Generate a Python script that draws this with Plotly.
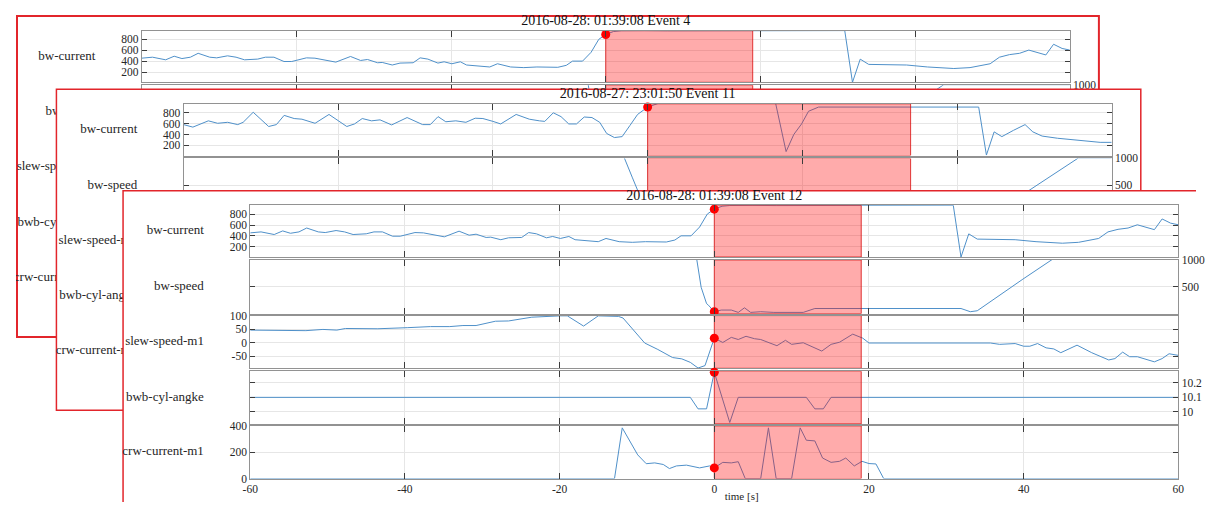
import plotly.graph_objects as go

# The page is photographed with the browser's default 8px body margin, so the
# figure is sized to leave that margin and every position is given in page pixels.
PAGE_W, PAGE_H = 1213, 516
PAGE_MARGIN = 8
FIG_W, FIG_H = PAGE_W - 2 * PAGE_MARGIN, PAGE_H - 2 * PAGE_MARGIN

# ------------------------------------------------------------------ data
titles = ["2016-08-28: 01:39:08 Event 4",
          "2016-08-27: 23:01:50 Event 11",
          "2016-08-28: 01:39:08 Event 12"]
signal_labels = ["bw-current", "bw-speed", "slew-speed-m1", "bwb-cyl-angke", "crw-current-m1"]
time_axis_title = "time [s]"

time_ticks = [-60, -40, -20, 0, 20, 40, 60]
time_tick_text = ["-60", "-40", "-20", "0", "20", "40", "60"]
bw_current_ticks = [200, 400, 600, 800]
bw_current_tick_text = ["200", "400", "600", "800"]
bw_speed_ticks = [500, 1000]
bw_speed_tick_text = ["500", "1000"]
slew_ticks = [-50, 0, 50, 100]
slew_tick_text = ["-50", "0", "50", "100"]
bwb_ticks = [10.0, 10.1, 10.2]
bwb_tick_text = ["10", "10.1", "10.2"]
crw_ticks = [0, 200, 400]
crw_tick_text = ["0", "200", "400"]

# event A (2016-08-28 01:39:08) -> shown as Event 4 and Event 12
evA_bw_current_t = [-60, -58.6, -56.9, -55.8, -54.8, -53.7, -52.7, -51.2, -50.3, -48.9,
                    -47.8, -46.7, -45.0, -44.0, -42.9, -41.6, -40.6, -38.7, -37.6, -36.4,
                    -34.9, -33.0, -31.7, -30.8, -29.5, -28.9, -27.6, -26.6, -24.9, -24.0,
                    -23.0, -21.7, -20.9, -19.9, -18.8, -18.0, -16.5, -15.0, -14.0, -12.3,
                    -10.6, -8.9, -6.2, -5.1, -4.3, -3.0, -1.9, -0.9, 0, 1,
                    2, 3, 5, 8, 12, 16, 20, 25, 30, 30.9,
                    31.9, 32.9, 34.0, 36.5, 38.9, 41.6, 45.0, 47.1, 49.7, 50.9,
                    52.2, 53.5, 54.7, 56.9, 57.9, 59.0, 60]
evA_bw_current = [457, 475, 427, 493, 450, 475, 546, 475, 463, 500,
                  475, 427, 440, 475, 475, 396, 396, 463, 457, 427,
                  385, 488, 415, 433, 373, 379, 332, 367, 373, 463,
                  440, 367, 391, 355, 391, 332, 320, 296, 355, 296,
                  284, 296, 290, 326, 403, 403, 564, 802, 891, 945,
                  958, 955, 960, 957, 960, 958, 960, 958, 960, 962,
                  15, 439, 343, 343, 332, 296, 268, 284, 355, 475,
                  522, 546, 605, 516, 712, 635, 605]

evA_bw_speed_t = [-60, -2.3, -1.7, -1.0, -0.76, 0, 0.9, 2.2, 3.1, 3.9, 4.7,
                  6.0, 7.7, 9.8, 11.5, 13.0, 31.9, 33.1, 34.0, 39.9, 43.7, 60]
evA_bw_speed = [1040, 1040, 489, 183, 154, 31, 62, 62, 18, 104, 18,
                31, 18, 13, 18, 91, 91, 31, 49, 641, 1010, 1010]

evA_slew_t = [-60, -56.1, -52.8, -50.6, -48.8, -47.7, -43.5, -39.7, -36.7, -34.2,
              -32.5, -30.8, -28.3, -26.6, -25.3, -23.6, -19.9, -19.0, -16.9, -15.0,
              -12.4, -11.8, -9.0, -7.3, -5.4, -4.2, -3.1, -2.1, -1.2, 0,
              1.1, 2.2, 3.1, 4.1, 5.2, 6.0, 8.1, 9.2, 10.0, 11.5,
              13.9, 15.1, 16.2, 17.9, 19.2, 20.0, 35.7, 36.9, 38.9, 40.0,
              40.8, 41.8, 42.9, 43.9, 44.8, 46.9, 48.8, 51.0, 51.8, 52.8,
              53.7, 54.7, 56.9, 57.9, 58.8, 59.8, 60]
evA_slew = [47, 47, 45, 49.5, 47, 53, 52, 56, 60, 60,
            64, 64, 80, 81, 88, 95, 100, 100, 62, 100,
            98, 92, -1, -25, -55, -60, -73, -94, -85, 17,
            1, 20, 12, 24, 15, 12, -11, 9, -6, 0,
            -31, -6, 2, 32, 17, -1, -1, -6, -3, -13,
            -13, -3, -19, -23, -37, -9, -37, -64, -59, -35,
            -52, -52, -71, -59, -41, -47, -47]

evA_bwb_t = [-60, -3.1, -2.1, -1.0, 0, 2.0, 3.1, 11.9, 13.0, 14.1, 15.1, 60]
evA_bwb = [10.1, 10.1, 10.02, 10.02, 10.275, 9.925, 10.1, 10.1, 10.02, 10.02, 10.1, 10.1]

evA_crw_t = [-60, -12.9, -11.9, -9.9, -8.8, -7.7, -6.6, -5.8, -4.9, -3.6,
             -1.9, -0.6, 0, 1.1, 2.2, 3.1, 4.0, 6.0, 7.0, 8.0,
             10.0, 11.1, 11.9, 13.0, 14.0, 15.1, 16.2, 17.0, 18.1, 19.1,
             20.0, 20.9, 21.9, 60]
evA_crw = [0, 0, 385, 180, 113, 119, 107, 76, 96, 102,
           81, 96, 81, 123, 119, 128, 0, 0, 385, 0,
           0, 385, 291, 286, 156, 123, 131, 156, 96, 131,
           114, 111, 0, 0]

evA_window = [0, 19]

# event B (2016-08-27 23:01:50) -> Event 11
evB_bw_current_t = [-60, -58.8, -56.8, -55.6, -54.3, -53.0, -52.3, -51.0, -49.0, -48.0,
                    -47.0, -45.7, -44.7, -43.0, -41.2, -38.9, -37.9, -36.9, -35.7, -34.6,
                    -33.1, -31.1, -29.1, -28.1, -27.1, -26.1, -24.8, -23.5, -22.3, -21.3,
                    -20.0, -19.0, -17.0, -15.3, -14.0, -13.3, -12.2, -11.2, -10.2, -9.2,
                    -8.2, -7.2, -6.2, -5.3, -4.3, -3.3, -2.3, -1.3, 0, 1,
                    2, 16.5, 17.9, 18.9, 19.9, 20.8, 22.1, 42.8, 43.8, 44.8,
                    45.8, 47.3, 48.8, 49.8, 51.0, 53.0, 56.0, 58.5, 60]
evB_bw_current = [581, 535, 650, 605, 623, 581, 623, 807, 546, 581,
                  750, 692, 680, 605, 767, 546, 593, 692, 650, 668,
                  575, 710, 581, 581, 727, 633, 650, 623, 698, 692,
                  640, 593, 767, 680, 650, 640, 797, 727, 593, 593,
                  720, 710, 623, 419, 344, 361, 563, 767, 902, 950,
                  1000, 1000, 87, 401, 593, 825, 902, 902, 23, 448,
                  361, 476, 581, 448, 371, 331, 291, 256, 256]

evB_bw_speed_t = [-60, -3.1, -2.0, -1.0, 0, 10, 20, 30, 43, 45.2, 55.7, 60]
evB_bw_speed = [1040, 1040, 650, 300, 50, 40, 45, 40, 30, 10, 1010, 1010]

evB_window = [0, 34]

# ------------------------------------------------------------------ styling
FONT = "Liberation Serif"
TXT = "#262626"
BLUE = "#4f90c9"
BOX = "#929292"
TICKC = "#3c3c3c"
GRID = "#e6e6e6"
CARD_RED = "#e2252b"
EVENT_FILL = "rgba(255,0,0,0.33)"
EVENT_EDGE = "rgba(215,0,0,0.75)"

panel_style = [
    dict(range=[15, 962], side="left", ticks=(bw_current_ticks, bw_current_tick_text)),
    dict(range=[-5, 1000], side="right", ticks=(bw_speed_ticks, bw_speed_tick_text)),
    dict(range=[-95, 101], side="left", ticks=(slew_ticks, slew_tick_text)),
    dict(range=[9.915, 10.282], side="right", ticks=(bwb_ticks, bwb_tick_text)),
    dict(range=[0, 400], side="left", ticks=(crw_ticks, crw_tick_text)),
]

# card geometry (page pixels)
cards = [dict(left=6.5, top=10.0, width=2.0), dict(left=49.0, top=85.0, width=1.5),
         dict(left=116.6, top=189.0, width=1.5)]
CARD_W, CARD_H = 1100, 329
PLOT_L, PLOT_R = 129.0, 1070.5
PANEL_TOP = [15.0, 71.0, 128.0, 185.0, 241.0]
PANEL_BOT = [68.0, 126.0, 182.0, 239.0, 295.0]
LABEL_X = 82.0
TITLE_Y = 5.5
# the page bottom leaves no room below the tick labels, so the axis title sits
# just to the right of the "0" label instead of under it
XTITLE_X = 627.5
XTITLE_Y = 314.5

card_series = [
    ([(evA_bw_current_t, evA_bw_current), (evA_bw_speed_t, evA_bw_speed)], evA_window),
    ([(evB_bw_current_t, evB_bw_current), (evB_bw_speed_t, evB_bw_speed)], evB_window),
    ([(evA_bw_current_t, evA_bw_current), (evA_bw_speed_t, evA_bw_speed),
      (evA_slew_t, evA_slew), (evA_bwb_t, evA_bwb), (evA_crw_t, evA_crw)], evA_window),
]

# ------------------------------------------------------------------ build
fig = go.Figure()
layout = {}
shapes = []
counter = [0]


def new_ids():
    counter[0] += 1
    i = counter[0]
    s = "" if i == 1 else str(i)
    return "x" + s, "y" + s, "xaxis" + s, "yaxis" + s


def dx(a, b):  # page px -> paper domain
    a, b = a - PAGE_MARGIN, b - PAGE_MARGIN
    return [max(0.0, a / FIG_W), min(1.0, b / FIG_W)]


def dy(top, bot):
    top, bot = top - PAGE_MARGIN, bot - PAGE_MARGIN
    return [max(0.0, 1 - bot / FIG_H), min(1.0, 1 - top / FIG_H)]


for ci, card in enumerate(cards):
    L, T = card["left"], card["top"]
    # ---- frame subplot: card background + texts (coords relative to the card corner)
    xr, yr, xn, yn = new_ids()
    fl, fr = max(PAGE_MARGIN, L - 3), min(PAGE_MARGIN + FIG_W, L + CARD_W + 3)
    ft, fb = max(PAGE_MARGIN, T - 3), min(PAGE_MARGIN + FIG_H, T + CARD_H + 3)
    layout[xn] = dict(domain=dx(fl, fr), range=[fl - L, fr - L], visible=False,
                      anchor=yr, fixedrange=True)
    layout[yn] = dict(domain=dy(ft, fb), range=[fb - T, ft - T], visible=False,
                      anchor=xr, fixedrange=True)
    x0 = max(0.0, fl - L + 1.0)
    y0 = max(0.0, ft - T + 1.0)
    shapes.append(dict(type="rect", xref=xr, yref=yr, x0=x0, x1=CARD_W, y0=y0, y1=CARD_H,
                       layer="below", fillcolor="white",
                       line=dict(color=CARD_RED, width=card["width"])))
    centers = [(a + b) / 2 for a, b in zip(PANEL_TOP, PANEL_BOT)]
    fig.add_trace(go.Scatter(x=[LABEL_X] * 5, y=centers, text=signal_labels, mode="text",
                             textposition="middle left",
                             textfont=dict(family=FONT, size=13, color=TXT),
                             xaxis=xr, yaxis=yr, hoverinfo="skip", showlegend=False))
    tx = [(PLOT_L + PLOT_R) / 2]
    fig.add_trace(go.Scatter(x=tx, y=[TITLE_Y], text=[titles[ci]], mode="text",
                             textposition="middle center",
                             textfont=dict(family=FONT, size=14, color="#111111"),
                             xaxis=xr, yaxis=yr, hoverinfo="skip", showlegend=False))
    series, window = card_series[ci]
    if ci == len(cards) - 1:
        fig.add_trace(go.Scatter(x=[XTITLE_X], y=[XTITLE_Y], text=[time_axis_title],
                                 mode="text", textposition="middle center",
                                 textfont=dict(family=FONT, size=11, color=TXT),
                                 xaxis=xr, yaxis=yr, hoverinfo="skip", showlegend=False))

    # ---- data panels
    for pi, (tt, vv) in enumerate(series):
        st = panel_style[pi]
        xr, yr, xn, yn = new_ids()
        last = (pi == 4)
        layout[xn] = dict(domain=dx(L + PLOT_L, L + PLOT_R), range=[-60, 60], anchor=yr,
                          tickmode="array", tickvals=time_ticks, ticktext=time_tick_text,
                          ticks="inside", ticklen=6, tickcolor=TICKC, tickwidth=1,
                          showline=True, linecolor=BOX, linewidth=1, mirror="ticks",
                          showgrid=True, gridcolor=GRID, gridwidth=1, zeroline=False,
                          showticklabels=last,
                          tickfont=dict(family=FONT, size=11.5, color=TXT),
                          fixedrange=True)
        layout[yn] = dict(domain=dy(T + PANEL_TOP[pi], T + PANEL_BOT[pi]), range=st["range"],
                          anchor=xr, side=st["side"],
                          tickmode="array", tickvals=st["ticks"][0], ticktext=st["ticks"][1],
                          ticks="inside", ticklen=5, tickcolor=TICKC, tickwidth=1,
                          showline=True, linecolor=BOX, linewidth=1, mirror="ticks",
                          showgrid=True, gridcolor=GRID, gridwidth=1, zeroline=False,
                          tickfont=dict(family=FONT, size=11.5, color=TXT),
                          fixedrange=True)
        fig.add_trace(go.Scatter(x=tt, y=vv, mode="lines", line=dict(color=BLUE, width=1),
                                 xaxis=xr, yaxis=yr, hoverinfo="skip", showlegend=False))
        lo, hi = st["range"]
        fig.add_trace(go.Scatter(x=[window[0], window[1], window[1], window[0], window[0]],
                                 y=[lo, lo, hi, hi, lo], mode="lines", fill="toself",
                                 fillcolor=EVENT_FILL, line=dict(color=EVENT_EDGE, width=1),
                                 xaxis=xr, yaxis=yr, hoverinfo="skip", showlegend=False))
        v0 = vv[tt.index(window[0])]
        fig.add_trace(go.Scatter(x=[window[0]], y=[v0], mode="markers",
                                 marker=dict(color="#ff0000", size=9, line=dict(width=0)),
                                 cliponaxis=False,
                                 xaxis=xr, yaxis=yr, hoverinfo="skip", showlegend=False))

fig.update_layout(**layout)
fig.update_layout(width=FIG_W, height=FIG_H, margin=dict(l=0, r=0, t=0, b=0),
                  paper_bgcolor="white", plot_bgcolor="rgba(0,0,0,0)",
                  showlegend=False, hovermode=False, shapes=shapes)

fig.write_html("out.html", config={"displayModeBar": False})
